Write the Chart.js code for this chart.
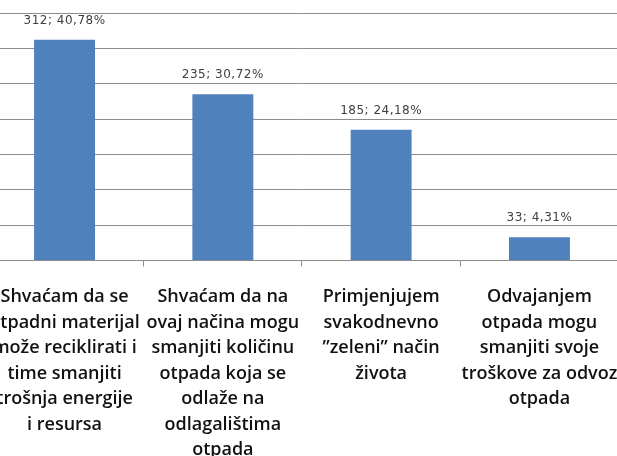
<!DOCTYPE html>
<html>
<head>
<meta charset="utf-8">
<script src="https://cdn.jsdelivr.net/npm/chart.js@4.4.0/dist/chart.umd.min.js"></script>
<style>
  html, body { margin:0; padding:0; background:#fff; overflow:hidden; width:617px; height:456px; }
  #wrap { position:relative; width:617px; height:456px; overflow:hidden; }
  #myCanvas { position:absolute; left:-27px; top:0; }
</style>
</head>
<body>
<div id="wrap">
  <canvas id="myCanvas" width="661" height="495"></canvas>
</div>
<script>
var odgovori = [
  ["Shvaćam da se", "otpadni materijal", "može reciklirati i", "time smanjiti", "trošnja energije", "i resursa"],
  ["Shvaćam da na", "ovaj načina mogu", "smanjiti količinu", "otpada koja se", "odlaže na", "odlagalištima", "otpada"],
  ["Primjenjujem", "svakodnevno", "”zeleni” način", "života"],
  ["Odvajanjem", "otpada mogu", "smanjiti svoje", "troškove za odvoz", "otpada"]
];
var broj = [312, 235, 185, 33];
var yTicks = [0, 50, 100, 150, 200, 250, 300, 350];

var ukupno = 0;
for (var i in broj) { ukupno += broj[i]; }

// natpis "broj; postotak" iznad stupca
var natpisi = {
  id: 'natpisi',
  afterDatasetsDraw: function(chart) {
    var ctx = chart.ctx;
    var meta = chart.getDatasetMeta(0);
    ctx.save();
    ctx.font = '12px "DejaVu Sans"';
    ctx.letterSpacing = '0.5px';
    ctx.fillStyle = '#404040';
    ctx.textAlign = 'center';
    ctx.textBaseline = 'middle';
    meta.data.forEach(function(bar, i) {
      var pct = (broj[i] / ukupno * 100).toFixed(2).replace('.', ',');
      ctx.fillText(broj[i] + '; ' + pct + '%', bar.x, bar.y - 19);
    });
    ctx.restore();
  }
};

var ctx = document.getElementById('myCanvas');
var grafikon = new Chart(ctx, {
  type: 'bar',
  data: {
    labels: odgovori,
    datasets: [{
      data: broj,
      backgroundColor: '#4f81bd',
      borderWidth: 0,
      categoryPercentage: 1,
      barPercentage: 0.385
    }]
  },
  plugins: [natpisi],
  options: {
    responsive: false,
    animation: false,
    layout: { padding: { top: 13, left: 0, right: 2, bottom: 14 } },
    plugins: { legend: { display: false }, tooltip: { enabled: false } },
    scales: {
      x: {
        grid: { drawOnChartArea: false, tickLength: 6, color: '#8c8c8c' },
        border: { color: '#8c8c8c' },
        ticks: {
          autoSkip: false, maxRotation: 0, minRotation: 0, padding: 18,
          color: '#111',
          font: { family: '"Open Sans"', size: 18, weight: '600', lineHeight: 1.417 }
        }
      },
      y: {
        min: yTicks[0],
        max: yTicks[yTicks.length - 1],
        afterBuildTicks: function(axis) {
          axis.ticks = yTicks.map(function(v) { return { value: v }; });
        },
        ticks: { display: false },
        border: { display: false },
        grid: { color: '#8c8c8c', drawTicks: false }
      }
    }
  }
});
</script>
</body>
</html>
